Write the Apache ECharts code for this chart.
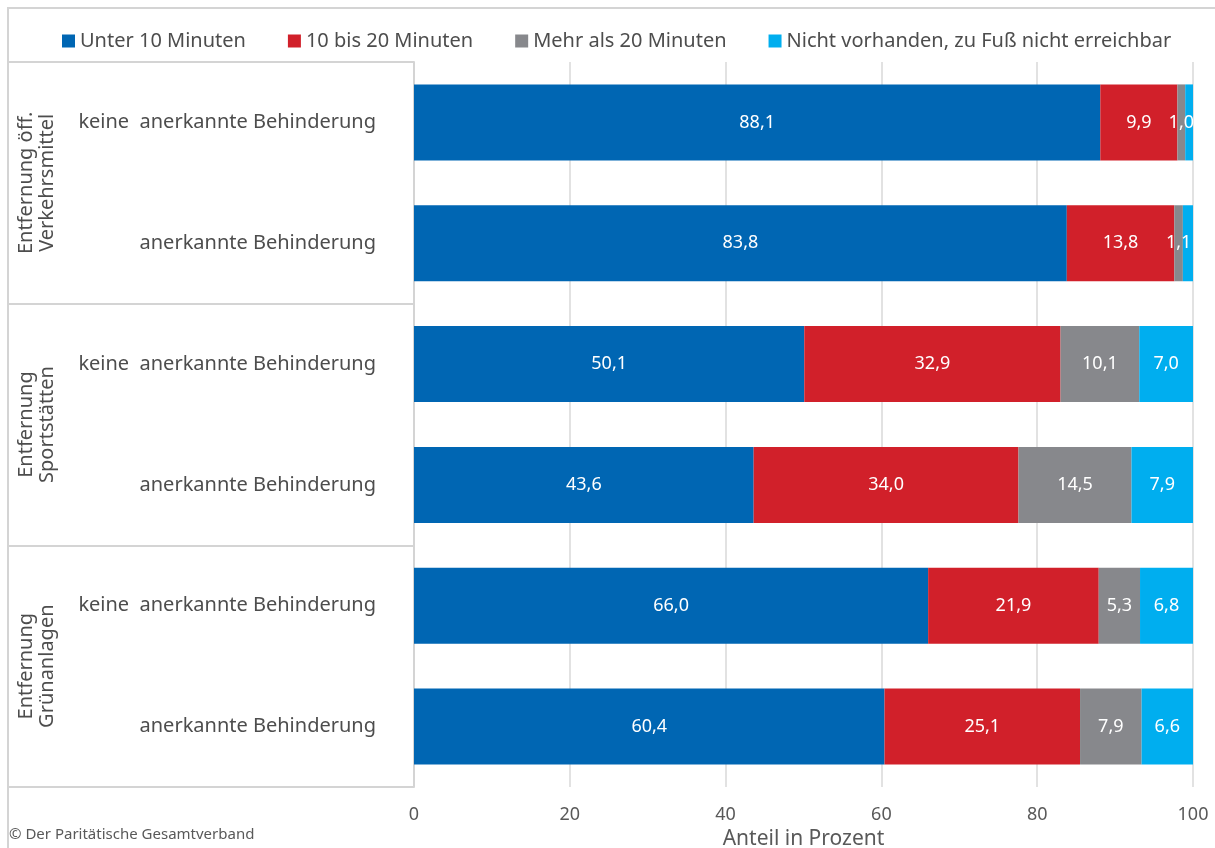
<!DOCTYPE html>
<html>
<head>
<meta charset="utf-8">
<script src="https://cdn.jsdelivr.net/npm/echarts@6/dist/echarts.min.js"></script>
<style>
  html, body { margin: 0; padding: 0; background: #fff; }
  #chart { width: 1215px; height: 848px; }
</style>
</head>
<body>
<div id="chart"></div>
<script>
// Row labels (inner level) and group labels (outer level)
const rowLabels = [
  'keine  anerkannte Behinderung', 'anerkannte Behinderung',
  'keine  anerkannte Behinderung', 'anerkannte Behinderung',
  'keine  anerkannte Behinderung', 'anerkannte Behinderung'
];
const groupLabels = [
  'Entfernung öff.\nVerkehrsmittel',
  'Entfernung\nSportstätten',
  'Entfernung\nGrünanlagen'
];
const seriesNames = [
  'Unter 10 Minuten', '10 bis 20 Minuten', 'Mehr als 20 Minuten',
  'Nicht vorhanden, zu Fuß nicht erreichbar'
];
// Shares in percent, one entry per row
const under10 = [88.1, 83.8, 50.1, 43.6, 66.0, 60.4];
const from10to20 = [9.9, 13.8, 32.9, 34.0, 21.9, 25.1];
const over20 = [1.0, 1.1, 10.1, 14.5, 5.3, 7.9];
const notReachable = [1.0, 1.3, 7.0, 7.9, 6.8, 6.6];
const xTicks = { min: 0, max: 100, step: 20 };

const colors = ['#0066b3', '#d1202a', '#87888c', '#00aeef'];
const font = "'Noto Sans', 'Open Sans', sans-serif";
const lineCol = '#d4d4d4';

const fmt = v => v.toFixed(1).replace('.', ',');

const chart = echarts.init(document.getElementById('chart'), null, { renderer: 'canvas' });

function makeSeries(name, data, idx, minLabel) {
  return {
    name: name,
    type: 'bar',
    stack: 'total',
    yAxisIndex: 0,
    barWidth: 76,
    data: data,
    itemStyle: { color: colors[idx] },
    label: {
      show: true,
      position: 'inside',
      color: '#ffffff',
      fontFamily: font,
      fontSize: 18,
      formatter: p => (p.value >= minLabel ? fmt(p.value) : '')
    },
    emphasis: { disabled: true },
    animation: false
  };
}

chart.setOption({
  animation: false,
  textStyle: { fontFamily: font },
  legend: {
    top: 31,
    left: 62,
    padding: 0,
    itemGap: 42,
    itemWidth: 13,
    itemHeight: 13,
    icon: 'rect',
    textStyle: { fontSize: 20, color: '#4d4d4d', fontFamily: font },
    data: seriesNames
  },
  grid: { left: 414, right: 22, top: 62, bottom: 61, containLabel: false, outerBoundsMode: 'none' },
  xAxis: {
    type: 'value',
    min: xTicks.min,
    max: xTicks.max,
    interval: xTicks.step,
    axisLine: { show: false },
    axisTick: { show: false },
    splitLine: { show: true, lineStyle: { color: '#d9d9d9', width: 1.5 } },
    axisLabel: { margin: 19, fontSize: 18, color: '#595959', fontFamily: font },
    name: 'Anteil in Prozent',
    nameLocation: 'middle',
    nameGap: 37,
    nameTextStyle: { fontSize: 21, color: '#595959', fontFamily: font }
  },
  yAxis: [
    {
      type: 'category',
      data: rowLabels,
      inverse: true,
      position: 'left',
      axisLine: { show: false },
      axisTick: { show: false },
      axisLabel: { margin: 38, fontSize: 20, color: '#4d4d4d', fontFamily: font, interval: 0 }
    },
    {
      type: 'category',
      data: groupLabels,
      inverse: true,
      position: 'left',
      offset: 0,
      axisLine: { show: true, lineStyle: { color: lineCol, width: 2 } },
      axisTick: { show: true, length: 406, lineStyle: { color: lineCol, width: 2 } },
      axisLabel: {
        rotate: 90, margin: 356, interval: 0, fontSize: 20, lineHeight: 21,
        color: '#4d4d4d', fontFamily: font
      }
    }
  ],
  graphic: [
    {
      type: 'rect',
      shape: { x: 8, y: 8, width: 1230, height: 860 },
      style: { fill: 'none', stroke: lineCol, lineWidth: 2 },
      silent: true
    },
    {
      type: 'text',
      left: 9,
      top: 827,
      style: { text: '© Der Paritätische Gesamtverband', fontSize: 15, fill: '#595959', fontFamily: font },
      silent: true
    }
  ],
  series: [
    makeSeries(seriesNames[0], under10, 0, 0),
    makeSeries(seriesNames[1], from10to20, 1, 0),
    makeSeries(seriesNames[2], over20, 2, 0),
    makeSeries(seriesNames[3], notReachable, 3, 2)
  ]
});
</script>
</body>
</html>
